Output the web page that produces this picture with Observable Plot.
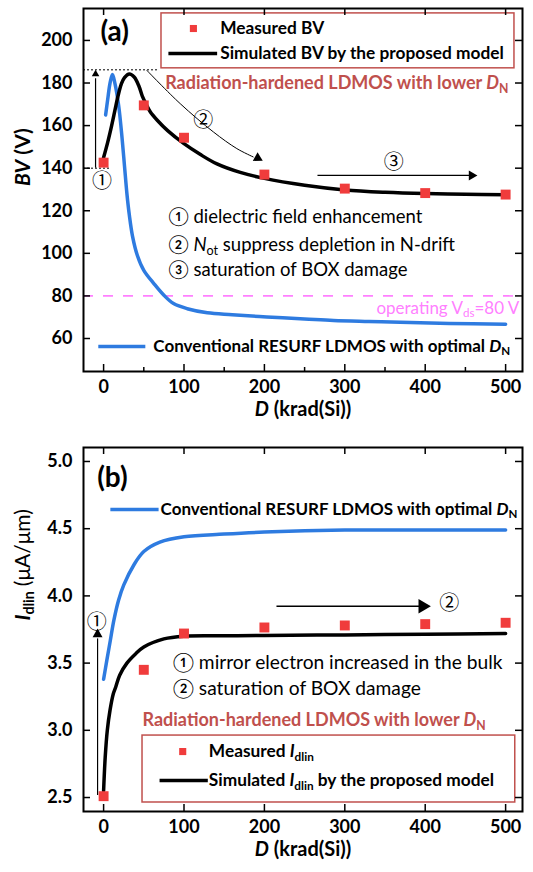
<!DOCTYPE html>
<html><head><meta charset="utf-8">
<script src="https://cdn.jsdelivr.net/npm/d3@7"></script>
<script src="https://cdn.jsdelivr.net/npm/@observablehq/plot@0.6"></script>
<style>
html,body{margin:0;padding:0;background:#fff;}
#chart{width:533px;}
#chart svg{display:block;}
</style></head><body><div id="chart"></div>
<script>
// ---------- data ----------
const doseTicks = [0, 100, 200, 300, 400, 500];
const doseMinorTicks = [50, 150, 250, 350, 450];
const bvTicks = [60, 80, 100, 120, 140, 160, 180, 200];
const idTicks = [2.5, 3.0, 3.5, 4.0, 4.5, 5.0];

const doseMeasured = [0, 50, 100, 200, 300, 400, 500];
const bvMeasured = [142.6, 169.5, 154.3, 137.0, 130.4, 128.3, 127.6];
const idMeasured = [2.51, 3.45, 3.72, 3.765, 3.78, 3.79, 3.80];

const doseSimBV = [0, 5, 10, 14, 18, 22, 26, 32, 38, 44, 48, 53, 58, 67, 80, 100, 120, 141, 170, 200, 250, 300, 350, 400, 450, 500];
const bvSim = [145, 152, 160, 167, 174, 179.5, 182.5, 184.2, 182.8, 178.5, 174, 170, 166.5, 162.4, 157.5, 151.5, 146.5, 142, 138, 135.2, 132, 129.8, 128.7, 128.1, 127.8, 127.5];

const doseConvBV = [2.5, 5, 8, 11, 14, 18.7, 23, 26, 29, 32, 36, 42, 50, 62.5, 75, 87, 104, 129, 160, 203, 250, 286, 330, 369, 430, 500];
const bvConv = [165, 172, 180, 184, 180, 169.5, 154, 141, 128, 118, 108, 99, 92, 85.8, 80.3, 76.4, 74, 72.1, 71.2, 70.1, 69.2, 68.5, 68, 67.6, 67.1, 66.7];

const doseSimId = [0, 2, 4.6, 8, 12, 15, 20, 29, 40, 50, 75, 100, 150, 200, 300, 400, 500];
const idSim = [2.55, 2.8, 3.0, 3.15, 3.27, 3.32, 3.41, 3.5, 3.57, 3.62, 3.68, 3.70, 3.703, 3.705, 3.71, 3.715, 3.72];

const doseConvId = [0, 4, 8.4, 12.8, 18.7, 25, 37.6, 50, 70, 100, 150, 200, 300, 400, 500];
const idConv = [3.38, 3.52, 3.67, 3.82, 3.97, 4.08, 4.23, 4.33, 4.40, 4.44, 4.46, 4.475, 4.49, 4.49, 4.49];

// ---------- style ----------
const FONT = "Lato, 'Noto Sans', sans-serif";
const CIRC = "'DejaVu Serif', 'Noto Sans CJK SC', serif";
const RED = "#f03c3c", BLUE = "#2e7be0", BROWN = "#c0504d", PINK = "#ff80ff";
const WIDTH = 533, ML = 83, MR = 11;
const FW = WIDTH - ML - MR;

const zip = (xs, ys) => xs.map((x, i) => ({dose: x, v: ys[i]}));
const T = (x, y, t, o = {}) => Plot.text([{x, y, t}], {x: "x", y: "y", text: "t", textAnchor: "start", fill: "black", ...o});
const P = (x, y) => ({x, y});

function rich(svg) {
  svg.querySelectorAll("text").forEach(t => {
    const s = t.textContent;
    if (s.includes("<")) {
      t.innerHTML = s
        .replace(/<i>(.*?)<\/i>/g, '<tspan font-style="italic">$1</tspan>')
        .replace(/<sub>(.*?)<\/sub>/g, '<tspan baseline-shift="-0.3em" font-size="68%">$1</tspan>')
        .replace(/<n>(.*?)<\/n>/g, '<tspan font-weight="normal">$1</tspan>');
    }
  });
  return svg;
}

function frameMarks(fh, yTicks, minor) {
  return [
    Plot.tickX(doseTicks, {x: d => d, insetTop: fh - 7, strokeWidth: 1.5}),
    Plot.tickX(doseTicks, {x: d => d, insetBottom: fh - 7, strokeWidth: 1.5}),
    minor ? Plot.tickX(minor, {x: d => d, insetTop: fh - 4, strokeWidth: 1.5}) : null,
    Plot.tickY(yTicks, {y: d => d, insetRight: FW - 7, strokeWidth: 1.5}),
    Plot.tickY(yTicks, {y: d => d, insetLeft: FW - 7, strokeWidth: 1.5}),
    Plot.frame({stroke: "black", strokeWidth: 2})
  ];
}

// ---------- panel (a) ----------
const HA = 430, MTA = 8, MBA = 59, FHA = HA - MTA - MBA;
const plotA = Plot.plot({
  width: WIDTH, height: HA, marginTop: MTA, marginBottom: MBA, marginLeft: ML, marginRight: MR,
  style: {fontFamily: FONT, background: "white", color: "black", overflow: "visible"},
  x: {domain: [-25, 521]},
  y: {domain: [44.5, 215]},
  marks: [
    Plot.ruleY([80], {stroke: PINK, strokeWidth: 1.6, strokeDasharray: "10,10"}),
    Plot.ruleY([186.2], {x1: -25, x2: 68, stroke: "black", strokeWidth: 1, strokeDasharray: "2,2"}),
    Plot.ruleY([140], {x1: -25, x2: 8, stroke: "black", strokeWidth: 1, strokeDasharray: "2,2"}),
    Plot.line(zip(doseConvBV, bvConv), {x: "dose", y: "v", stroke: BLUE, strokeWidth: 3.5, curve: "catmull-rom"}),
    Plot.line(zip(doseSimBV, bvSim), {x: "dose", y: "v", stroke: "black", strokeWidth: 3.5, curve: "catmull-rom"}),
    Plot.dot(zip(doseMeasured, bvMeasured), {x: "dose", y: "v", symbol: "square", r: 5.6, fill: RED}),
    // arrows
    Plot.ruleX([-10], {y1: 140, y2: 182, stroke: "black", strokeWidth: 1.2}),
    Plot.dot([0], {x: -10, y: 186.2, dy: 4.3, symbol: "triangle", r: 2.8, fill: "black"}),
    Plot.line([P(53.9, 185.9), P(95.3, 170.3), P(136.6, 157), P(165.7, 149.2), P(186, 145.3)], {x: "x", y: "y", curve: "catmull-rom", stroke: "black", strokeWidth: 1}),
    Plot.dot([0], {x: 198, y: 143.5, dx: -5.1, dy: -2.8, rotate: 118.6, symbol: "triangle", r: 3.7, fill: "black"}),
    Plot.link([0], {x1: 266, x2: 458, y1: 136.6, y2: 136.6, stroke: "black", strokeWidth: 1.3}),
    Plot.dot([0], {x: 465, y: 136.6, dx: -5.8, rotate: 90, symbol: "triangle", r: 3.7, fill: "black"}),
    T(-2, 133.5, "①", {textAnchor: "middle", fontSize: 20, fontFamily: CIRC}),
    T(124, 162.5, "②", {textAnchor: "middle", fontSize: 20, fontFamily: CIRC}),
    T(361, 142.7, "③", {textAnchor: "middle", fontSize: 20, fontFamily: CIRC}),
    // legend
    Plot.rect([0], {x1: 72, x2: 511, y1: 186.9, y2: 212.7, fill: "none", stroke: BROWN, strokeWidth: 1.5}),
    Plot.dot([0], {x: 111.7, y: 205.6, symbol: "square", r: 4, fill: RED}),
    T(145, 205.6, "Measured BV", {fontSize: 17.3, fontWeight: "bold"}),
    Plot.link([0], {x1: 80.6, x2: 141.2, y1: 193.9, y2: 193.9, stroke: "black", strokeWidth: 3.5}),
    T(145, 193.9, "Simulated BV by the proposed model", {fontSize: 17.3, fontWeight: "bold"}),
    T(76.6, 179.8, "Radiation-hardened LDMOS with lower <i>D</i><sub>N</sub>", {fill: BROWN, fontSize: 18, fontWeight: "bold"}),
    T(80.4, 116.9, "① dielectric field enhancement", {fontSize: 18.5}),
    T(80.4, 103.8, "② <i>N</i><sub>ot</sub> suppress depletion in N-drift", {fontSize: 18.5}),
    T(80.4, 92, "③ saturation of BOX damage", {fontSize: 18.5}),
    T(517, 74.2, "operating V<sub>ds</sub>=80 V", {textAnchor: "end", fill: PINK, fontSize: 17}),
    Plot.link([0], {x1: -6.6, x2: 51.9, y1: 56.3, y2: 56.3, stroke: BLUE, strokeWidth: 3.5}),
    T(61.9, 56.3, "Conventional RESURF LDMOS with optimal <i>D</i><sub>N</sub>", {fontSize: 17, fontWeight: "bold"}),
    T(-4, 203.8, "(a)", {fontSize: 28, fontWeight: "bold"}),
    // axes
    ...frameMarks(FHA, bvTicks, doseMinorTicks),
    Plot.axisX(doseTicks, {tickSize: 0, tickPadding: 9, fontSize: 18, fontWeight: "bold", label: null}),
    Plot.axisY(bvTicks, {tickSize: 0, tickPadding: 11, fontSize: 18, fontWeight: "bold", label: null}),
    Plot.text(["<i>D</i> (krad(Si))"], {text: d => d, frameAnchor: "bottom", dy: 44, fontSize: 20, fontWeight: "bold"}),
    Plot.text(["<i>BV</i> (V)"], {text: d => d, frameAnchor: "left", rotate: -90, dx: -60, dy: -4, fontSize: 21, fontWeight: "bold"})
  ]
});

// ---------- panel (b) ----------
const HB = 442, MTB = 17, MBB = 61, FHB = HB - MTB - MBB;
const plotB = Plot.plot({
  width: WIDTH, height: HB, marginTop: MTB, marginBottom: MBB, marginLeft: ML, marginRight: MR,
  style: {fontFamily: FONT, background: "white", color: "black", overflow: "visible"},
  x: {domain: [-25, 521]},
  y: {domain: [2.396, 5.104]},
  marks: [
    Plot.line(zip(doseConvId, idConv), {x: "dose", y: "v", stroke: BLUE, strokeWidth: 3.5, curve: "catmull-rom"}),
    Plot.line(zip(doseSimId, idSim), {x: "dose", y: "v", stroke: "black", strokeWidth: 3.5, curve: "catmull-rom"}),
    Plot.dot(zip(doseMeasured, idMeasured), {x: "dose", y: "v", symbol: "square", r: 5.6, fill: RED}),
    // arrows
    Plot.ruleX([-7.5], {y1: 2.515, y2: 3.68, stroke: "black", strokeWidth: 1.2}),
    Plot.dot([0], {x: -7.5, y: 3.757, dy: 5.8, symbol: "triangle", r: 3.7, fill: "black"}),
    T(-8.5, 3.802, "①", {textAnchor: "middle", fontSize: 20, fontFamily: CIRC}),
    Plot.link([0], {x1: 215, x2: 395, y1: 3.923, y2: 3.923, stroke: "black", strokeWidth: 1.3}),
    Plot.dot([0], {x: 407, y: 3.923, dx: -8.2, rotate: 90, symbol: "triangle", r: 5.3, fill: "black"}),
    T(430, 3.94, "②", {textAnchor: "middle", fontSize: 20, fontFamily: CIRC}),
    // texts
    T(-8, 4.88, "(b)", {fontSize: 28, fontWeight: "bold"}),
    Plot.link([0], {x1: 8.4, x2: 68.4, y1: 4.643, y2: 4.643, stroke: BLUE, strokeWidth: 3.5}),
    T(70.9, 4.643, "Conventional RESURF LDMOS with optimal <i>D</i><sub>N</sub>", {fontSize: 17, fontWeight: "bold"}),
    T(86, 3.504, "① mirror electron increased in the bulk", {fontSize: 19.2}),
    T(86, 3.311, "② saturation of BOX damage", {fontSize: 19.2}),
    T(48.4, 3.073, "Radiation-hardened LDMOS with lower <i>D</i><sub>N</sub>", {fill: BROWN, fontSize: 18, fontWeight: "bold"}),
    Plot.rect([0], {x1: 48.4, x2: 512, y1: 2.463, y2: 2.961, fill: "none", stroke: BROWN, strokeWidth: 1.5}),
    Plot.dot([0], {x: 98.4, y: 2.842, symbol: "square", r: 4, fill: RED}),
    T(130.9, 2.842, "Measured <i>I</i><sub>dlin</sub>", {fontSize: 17.3, fontWeight: "bold"}),
    Plot.link([0], {x1: 69.6, x2: 129.6, y1: 2.626, y2: 2.626, stroke: "black", strokeWidth: 3.5}),
    T(130.9, 2.626, "Simulated <i>I</i><sub>dlin</sub> by the proposed model", {fontSize: 17.3, fontWeight: "bold"}),
    // axes
    ...frameMarks(FHB, idTicks, null),
    Plot.axisX(doseTicks, {tickSize: 0, tickPadding: 9, fontSize: 18, fontWeight: "bold", label: null}),
    Plot.axisY(idTicks, {tickSize: 0, tickPadding: 11, fontSize: 18, fontWeight: "bold", label: null, tickFormat: d => d.toFixed(1)}),
    Plot.text(["<i>D</i> (krad(Si))"], {text: d => d, frameAnchor: "bottom", dy: 44, fontSize: 20, fontWeight: "bold"}),
    Plot.text(["<i>I</i><sub>dlin</sub> <n>(μA/μm)</n>"], {text: d => d, frameAnchor: "left", rotate: -90, dx: -60, dy: -9, fontSize: 21, fontWeight: "bold"})
  ]
});

const chart = document.getElementById("chart");
chart.appendChild(rich(plotA));
chart.appendChild(rich(plotB));
</script></body></html>
